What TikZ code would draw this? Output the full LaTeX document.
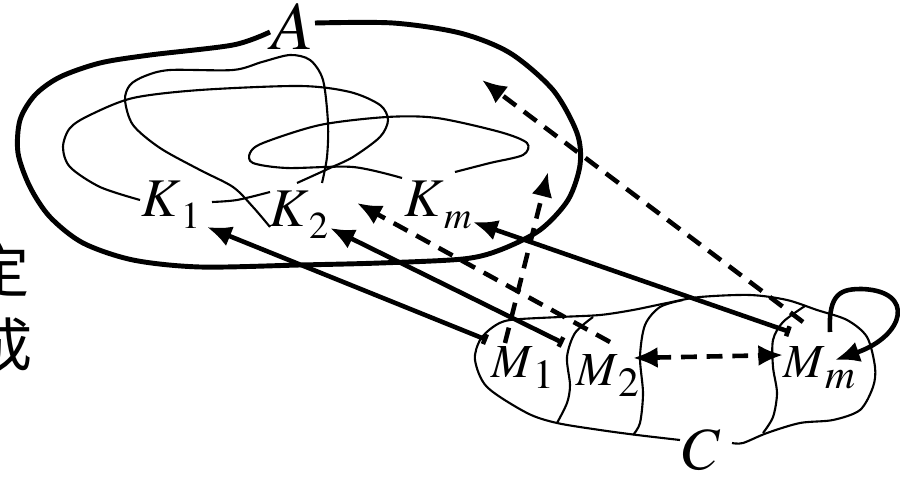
\documentclass[tikz,border=0pt]{standalone}
\usepackage{mathptmx}
\usepackage{fontspec}
\newfontfamily\cjk{Noto Sans CJK SC}
\usetikzlibrary{arrows.meta}
\newcommand{\lab}[3]{$#1$\raisebox{-3.3pt}{\fontsize{#3}{#3}\selectfont$#2$}}

\begin{document}
\begin{tikzpicture}[x=0.01cm,y=-0.01cm]
  \tikzstyle{rim}=[line width=1.4pt, line join=round]
  \tikzstyle{wire}=[line width=0.6pt]
  \tikzstyle{solidarr}=[line width=1.3pt, {Bar[width=3pt]}-{Latex[length=7pt,width=6pt]}]
  \tikzstyle{dasharr}=[line width=1.3pt, dash pattern=on 4.5pt off 2.8pt, -{Latex[length=7pt,width=6pt]}]
  \tikzstyle{lbl}=[anchor=base west, inner sep=0pt]
  \useasboundingbox (0,0) rectangle (900,479);

  % cut-off text at the left
  \node[anchor=east, inner sep=0pt, font=\cjk\fontsize{16.5}{17}\selectfont] (t1) at (30,270) {定};
  \node[anchor=east, inner sep=0pt, font=\cjk\fontsize{16.5}{17}\selectfont] (t2) at (33,345) {成};

  % labels
  \node[lbl, font=\fontsize{19.5}{20}\selectfont] (a) at (271,50) {$A$};
  \foreach \n/\x/\y/\s in {k1/141/217/1, k2/269/227/2, km/404/217/m} {
    \node[lbl, font=\fontsize{15.5}{16}\selectfont] (\n) at (\x,\y) {\lab{K}{\s}{10.8}};
  }
  \foreach \n/\x/\y/\s in {m1/491/377/1, m2/576/385/2, mm/783/377/m} {
    \node[lbl, font=\fontsize{13.5}{14}\selectfont] (\n) at (\x,\y) {\lab{M}{\s}{11.8}};
  }
  \node[lbl, font=\fontsize{17}{18}\selectfont] (c) at (682,469) {$C$};

  % the set A
  \draw[rim] plot[smooth] coordinates {(315,23) (393,23) (460,33) (510,53) (553,90) (577,133)
    (580,165) (568,200) (540,230) (500,250) (463,259) (380,263) (300,265) (200,267) (133,260)
    (83,243) (50,217) (30,187) (18,153) (20,120) (35,95) (60,77) (100,63) (150,55) (233,45) (270,32)};
  \draw[wire] plot[smooth] coordinates {(140,200) (100,187) (70,167) (63,147) (70,128) (90,115)
    (133,98) (200,90) (300,86) (350,92) (380,105) (388,120) (380,137) (353,157) (330,168) (297,183)};
  \draw[wire] plot[smooth] coordinates {(270,227) (253,207) (233,187) (200,170) (160,148) (133,125)
    (125,100) (130,85) (145,76) (170,70) (233,70) (262,62) (290,55) (310,60) (323,80) (328,123)
    (327,157) (322,183)};
  \draw[wire] plot[smooth] coordinates {(402,178) (353,167) (287,168) (253,163) (250,153) (263,143)
    (320,125) (387,117) (437,118) (500,132) (527,143) (523,155) (490,163) (455,172)};
  \draw[wire] plot[smooth] coordinates {(212,202) (237,200) (270,192)};

  % the set C
  \draw[wire] plot[smooth] coordinates {(680,440) (637,435) (600,430) (557,423) (527,413) (487,387)
    (475,360) (480,340) (493,327) (510,320) (560,317) (600,315) (633,310) (667,303) (700,297)
    (750,295) (787,300) (817,310) (847,320) (867,337) (875,367) (873,387) (860,410) (833,420)
    (800,423) (767,433) (743,443) (732,443)};
  \draw[wire] plot[smooth] coordinates {(593,317) (575,333) (567,357) (570,385) (567,403) (557,423)};
  \draw[wire] plot[smooth] coordinates {(683,300) (660,307) (645,325) (640,357) (643,393) (640,423) (633,435)};
  \draw[wire] plot[smooth] coordinates {(805,306) (783,322) (773,340) (773,367) (777,393) (773,417) (763,433)};

  % mappings
  \foreach \m/\k/\mx/\my/\kx/\ky in {m1/k1/-4/-37/66/10, m2/k2/-13/-42/61/1, mm/km/7/-45/69/5} {
    \draw[solidarr] ([shift={(\mx,\my)}]\m.base west) -- ([shift={(\kx,\ky)}]\k.base west);
  }
  \coordinate (pa) at (548,172);
  \coordinate (pb) at (482,80);
  \coordinate (mtop) at (862,289);
  \draw[dasharr] ([shift={(14,-34)}]m1.base west) -- (pa);
  \draw[dasharr] ([shift={(34,-43)}]m2.base west) -- ([shift={(88,-24)}]k2.base west);
  \draw[dasharr] ([shift={(20,-55)}]mm.base west) -- (pb);
  \draw[dasharr, {Latex[length=7pt,width=6pt]}-{Latex[length=7pt,width=6pt]}]
    ([shift={(57,-27)}]m2.base west) -- ([shift={(0,-22)}]mm.base west);
  \draw[line width=1.3pt, -{Latex[length=7pt,width=6pt]}] ([shift={(47,-45)}]mm.base west)
    .. controls +(-2,-40) and +(-20,0) .. (mtop)
    .. controls +(54,2) and +(70,-24) .. ([shift={(52,-17)}]mm.base west);
\end{tikzpicture}
\end{document}
